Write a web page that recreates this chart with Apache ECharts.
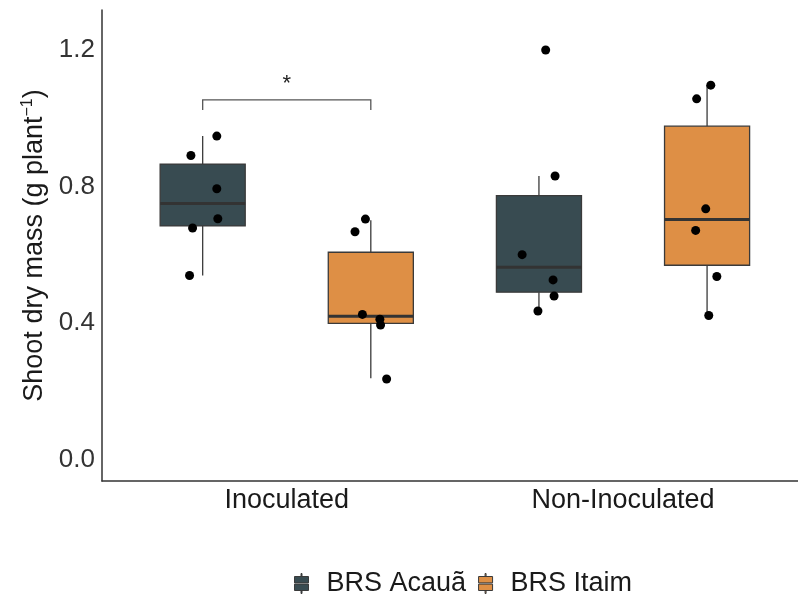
<!DOCTYPE html>
<html>
<head>
<meta charset="utf-8">
<script src="https://cdn.jsdelivr.net/npm/echarts@6/dist/echarts.min.js"></script>
<style>
html,body{margin:0;padding:0;background:#fff;}
#chart{width:798px;height:596px;}
</style>
</head>
<body>
<div id="chart"></div>
<script>
// ---- data ----
const categories = ['Inoculated', 'Non-Inoculated'];
const cultivars = ['BRS Acauã', 'BRS Itaim'];
const colors = ['#384B51', '#DE8F45'];
const yTicks = [0, 0.4, 0.8, 1.2];

// box stats per category: [lower whisker, Q1, median, Q3, upper whisker]
const acauaBox = [
  [0.540, 0.685, 0.751, 0.866, 0.948],
  [0.436, 0.491, 0.564, 0.774, 0.831]
];
const itaimBox = [
  [0.239, 0.400, 0.421, 0.608, 0.702],
  [0.423, 0.570, 0.704, 0.977, 1.097]
];

// observations per category
const acauaPoints = [
  [0.948, 0.891, 0.794, 0.706, 0.679, 0.540],
  [1.200, 0.831, 0.601, 0.527, 0.480, 0.436]
];
const itaimPoints = [
  [0.705, 0.668, 0.426, 0.412, 0.395, 0.237],
  [1.097, 1.057, 0.735, 0.672, 0.537, 0.423]
];
// horizontal jitter of each observation (category units)
const acauaJitter = [
  [0.042, -0.035, 0.042, 0.045, -0.030, -0.039],
  [0.020, 0.048, -0.050, 0.042, 0.045, -0.003]
];
const itaimJitter = [
  [-0.016, -0.047, -0.025, 0.027, 0.029, 0.047],
  [0.011, -0.031, -0.004, -0.034, 0.029, 0.005]
];

// significance bracket (Inoculated: Acauã vs Itaim)
const sigCategory = 0;
const sigBarY = 1.054;
const sigTickY = 1.024;
const sigStarY = 1.100;
const sigLabel = '*';

// ---- layout constants ----
const dodge = 0.25;
const boxWidth = 0.253;
const FONT = '"Liberation Sans", Arial, Helvetica, sans-serif';

function boxData(stats, side) {
  return stats.map((s, i) => [i + 1 + side * dodge].concat(s));
}
function pointData(vals, jit, side) {
  const out = [];
  vals.forEach((arr, i) => arr.forEach((v, j) => out.push([i + 1 + side * dodge + jit[i][j], v])));
  return out;
}

function boxRender(params, api) {
  const x = api.value(0);
  const lo = api.coord([x, api.value(1)]);
  const q1 = api.coord([x, api.value(2)]);
  const md = api.coord([x, api.value(3)]);
  const q3 = api.coord([x, api.value(4)]);
  const hi = api.coord([x, api.value(5)]);
  const hw = api.size([boxWidth, 0])[0] / 2;
  const cx = lo[0];
  const edge = '#3a3a3a';
  return {
    type: 'group',
    children: [
      { type: 'line', shape: { x1: cx, y1: hi[1], x2: cx, y2: q3[1] }, style: { stroke: edge, lineWidth: 1.3 } },
      { type: 'line', shape: { x1: cx, y1: q1[1], x2: cx, y2: lo[1] }, style: { stroke: edge, lineWidth: 1.3 } },
      { type: 'rect', shape: { x: cx - hw, y: q3[1], width: 2 * hw, height: q1[1] - q3[1] },
        style: { fill: api.visual('color'), stroke: edge, lineWidth: 1.3 } },
      { type: 'line', shape: { x1: cx - hw, y1: md[1], x2: cx + hw, y2: md[1] }, style: { stroke: '#333', lineWidth: 3 } }
    ]
  };
}

function sigRender(params, api) {
  const c = api.value(0);
  const l1 = api.coord([c - dodge, api.value(2)]);
  const l2 = api.coord([c - dodge, api.value(1)]);
  const r2 = api.coord([c + dodge, api.value(1)]);
  const r1 = api.coord([c + dodge, api.value(2)]);
  const st = api.coord([c, api.value(3)]);
  return {
    type: 'group',
    children: [
      { type: 'polyline', shape: { points: [l1, l2, r2, r1] }, style: { stroke: '#555', lineWidth: 1.3, fill: null } },
      { type: 'text', x: st[0], y: st[1], style: { text: sigLabel, fill: '#222', font: '22px ' + FONT, align: 'center', verticalAlign: 'middle' } }
    ]
  };
}

const legendIcon = 'path://M6.5,0H7.5V3H6.5Z M0,3H14V9.4H0Z M0,10.6H14V17H0Z M6.5,17H7.5V20H6.5Z';

const chart = echarts.init(document.getElementById('chart'), null, { renderer: 'canvas' });
chart.setOption({
  animation: false,
  backgroundColor: '#fff',
  textStyle: { fontFamily: FONT },
  grid: { left: 102, right: 0, top: 10, bottom: 115, containLabel: false },
  legend: {
    data: cultivars.map(n => ({ name: n, icon: legendIcon })),
    top: 565,
    left: 289,
    itemWidth: 14,
    itemHeight: 21,
    itemGap: 12,
    itemStyle: { borderColor: '#3a3a3a', borderWidth: 1 },
    textStyle: { fontSize: 27, color: '#1a1a1a', padding: [0, 0, 0, 13] }
  },
  xAxis: {
    type: 'value',
    min: 0.4506,
    max: 2.5204,
    axisLine: { show: true, onZero: false, lineStyle: { color: '#333', width: 1.5 } },
    axisTick: { show: false },
    splitLine: { show: false },
    axisLabel: {
      customValues: [1, 2],
      formatter: v => categories[Math.round(v) - 1],
      fontSize: 27,
      color: '#1a1a1a',
      margin: 6
    }
  },
  yAxis: {
    type: 'value',
    min: -0.0615,
    max: 1.317,
    name: 'Shoot dry mass (g plant{sup|−1})',
    nameLocation: 'middle',
    nameGap: 52,
    nameTextStyle: {
      fontSize: 27, color: '#1a1a1a',
      rich: { sup: { fontSize: 16, verticalAlign: 'top', padding: [0, 0, 13, 0], color: '#1a1a1a' } }
    },
    axisLine: { show: true, onZero: false, lineStyle: { color: '#333', width: 1.5 } },
    axisTick: { show: false },
    splitLine: { show: false },
    axisLabel: {
      customValues: yTicks,
      formatter: v => v.toFixed(1),
      fontSize: 26,
      color: '#333',
      margin: 7
    }
  },
  series: [
    { name: cultivars[0], type: 'custom', renderItem: boxRender, itemStyle: { color: colors[0] },
      encode: { x: 0, y: [1, 2, 3, 4, 5] }, data: boxData(acauaBox, -1), z: 2 },
    { name: cultivars[1], type: 'custom', renderItem: boxRender, itemStyle: { color: colors[1] },
      encode: { x: 0, y: [1, 2, 3, 4, 5] }, data: boxData(itaimBox, 1), z: 2 },
    { name: 'pts-acaua', type: 'scatter', symbolSize: 9, itemStyle: { color: '#000', opacity: 1 },
      data: pointData(acauaPoints, acauaJitter, -1), z: 5 },
    { name: 'pts-itaim', type: 'scatter', symbolSize: 9, itemStyle: { color: '#000', opacity: 1 },
      data: pointData(itaimPoints, itaimJitter, 1), z: 5 },
    { name: 'sig', type: 'custom', renderItem: sigRender, encode: { x: 0, y: [1, 2, 3] },
      data: [[sigCategory + 1, sigBarY, sigTickY, sigStarY]], z: 3 }
  ]
});
</script>
</body>
</html>
